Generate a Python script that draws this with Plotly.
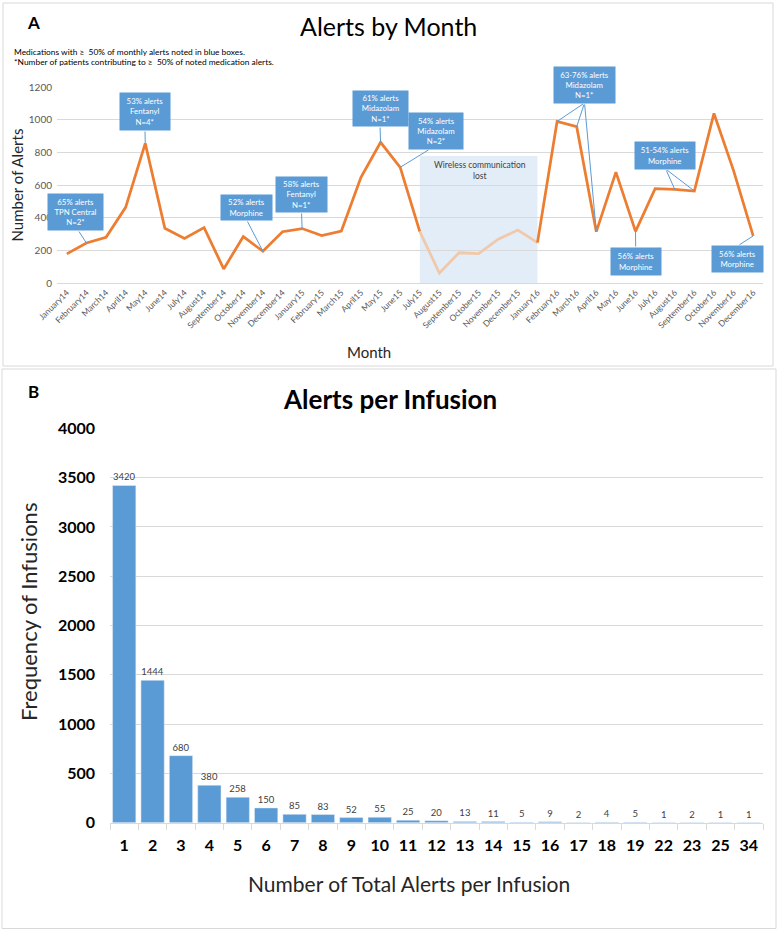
import plotly.graph_objects as go

# ---------------- data ----------------
months = ["January14", "February14", "March14", "April14", "May14", "June14", "July14",
          "August14", "September14", "October14", "November14", "December14",
          "January15", "February15", "March15", "April15", "May15", "June15", "July15",
          "August15", "September15", "October15", "November15", "December15",
          "January16", "February16", "March16", "April16", "May16", "June16", "July16",
          "August16", "September16", "October16", "November16", "December16"]
alerts = [180, 247, 282, 465, 857, 337, 275, 341, 88, 286, 196, 316,
          335, 292, 320, 649, 863, 710, 316, 63, 187, 182, 270, 326,
          249, 991, 959, 316, 681, 318, 580, 575, 565, 1040, 690, 290]
lost_start, lost_end = "July15", "January16"
lost_top = 780

alert_counts = ["1", "2", "3", "4", "5", "6", "7", "8", "9", "10", "11", "12", "13",
                "14", "15", "16", "17", "18", "19", "22", "23", "25", "34"]
infusions = [3420, 1444, 680, 380, 258, 150, 85, 83, 52, 55, 25, 20, 13, 11, 5, 9,
             2, 4, 5, 1, 2, 1, 1]

callout_texts = ["65% alerts<br>TPN Central<br>N=2*", "53% alerts<br>Fentanyl<br>N=4*",
                 "52% alerts<br>Morphine", "58% alerts<br>Fentanyl<br>N=1*",
                 "61% alerts<br>Midazolam<br>N=1*", "54% alerts<br>Midazolam<br>N=2*",
                 "63-76% alerts<br>Midazolam<br>N=1*", "51-54% alerts<br>Morphine",
                 "56% alerts<br>Morphine", "56% alerts<br>Morphine"]
callout_targets = [["February14"], ["May14"], ["November14"], ["January15"], ["May15"],
                   ["June15"], ["February16", "March16", "April16"],
                   ["August16", "September16"], ["June16"], ["December16"]]

# ---------------- layout geometry (pixels) ----------------
W, H = 778, 931
XA0, XA1, YA_TOP, YA_BOT = 57, 763, 87.3, 283.3
XB0, XB1, YB_TOP, YB_BOT = 110, 763, 428.3, 822.7
YMAX_A, YMAX_B = 1200, 4000

# box centre, box size, connector anchor
callout_geom = [
    ((75.5, 212), (55, 36), (78, 230)),
    ((145, 111.5), (50, 37), (145, 130)),
    ((246.5, 207.5), (51, 25), (246.7, 220)),
    ((301.5, 194.5), (51, 35), (301.5, 212)),
    ((380, 108.3), (55, 35), (380, 126)),
    ((436, 131), (54, 36), (430, 149)),
    ((584.5, 85), (61, 36), (584.5, 103)),
    ((665, 155.5), (60, 27), (665.7, 169)),
    ((635.7, 261.5), (50, 27), (635.7, 248)),
    ((737.5, 258.7), (51, 26), (738, 245.7)),
]

ORANGE = "#ed7d31"
LIGHT = "#f0c8aa"
BLUE = "#5b9bd5"
GRID = "#d9d9d9"
FONT = "Lato"


def px_a(i):
    return XA0 + (i + 0.5) * (XA1 - XA0) / len(months)


def py_a(v):
    return YA_BOT - v / YMAX_A * (YA_BOT - YA_TOP)


fig = go.Figure()

i_s, i_e = months.index(lost_start), months.index(lost_end)
segments = [(0, i_s, ORANGE), (i_s, i_e, LIGHT), (i_e, len(months) - 1, ORANGE)]
for a, b, col in segments:
    fig.add_trace(go.Scatter(x=months[a:b + 1], y=alerts[a:b + 1], mode="lines",
                             line=dict(color=col, width=2.75), xaxis="x", yaxis="y",
                             showlegend=False, hoverinfo="x+y"))

fig.add_trace(go.Bar(x=alert_counts, y=infusions, marker_color=BLUE, xaxis="x2", yaxis="y2",
                     text=infusions, textposition="outside", cliponaxis=False,
                     textfont=dict(family=FONT, size=9.5, color="#404040"),
                     showlegend=False))

annotations = []
# connectors
for targets, (c, sz, anc) in zip(callout_targets, callout_geom):
    for m in targets:
        i = months.index(m)
        v = alerts[i]
        annotations.append(dict(x=m, y=v, xref="x", yref="y", text="", showarrow=True,
                                arrowhead=0, arrowwidth=1, arrowcolor=BLUE,
                                ax=anc[0] - px_a(i), ay=anc[1] - py_a(v)))
# boxes
for t, (c, sz, anc) in zip(callout_texts, callout_geom):
    annotations.append(dict(x=c[0] / W, y=1 - c[1] / H, xref="paper", yref="paper",
                            text=t, showarrow=False, xanchor="center", yanchor="middle",
                            bgcolor=BLUE, width=sz[0], height=sz[1], borderpad=0,
                            font=dict(family=FONT, size=7.8, color="white")))

def paper_text(text, x, y, size, color="#000000", bold=False, angle=0, xanchor="center"):
    annotations.append(dict(x=x / W, y=1 - y / H, xref="paper", yref="paper", text=text,
                            showarrow=False, xanchor=xanchor, yanchor="middle",
                            textangle=angle,
                            font=dict(family=FONT, size=size, color=color,
                                      weight="bold" if bold else "normal")))

paper_text("Wireless communication<br>lost", 480, 171, 8.5, "#404040")
paper_text("A", 33, 22.5, 17, bold=True)
paper_text("Alerts by Month", 388, 26, 25)
paper_text("Medications with \u2265  50% of monthly alerts noted in blue boxes.", 11.5, 51.7, 8.4,
           xanchor="left")
paper_text("*Number of patients contributing to \u2265  50% of noted medication alerts.", 11.5, 62,
           8.4, xanchor="left")
paper_text("Number of Alerts", 16.5, 185, 15, "#262626", angle=-90)
paper_text("Month", 369, 352, 15, "#262626")

paper_text("B", 33, 391.5, 17, bold=True)
paper_text("Alerts per Infusion", 390, 399, 26, bold=True)
paper_text("Frequency of Infusions", 28, 612, 22, "#262626", angle=-90)
paper_text("Number of Total Alerts per Infusion", 409, 883, 21, "#262626")

shapes = [
    dict(type="rect", xref="x", yref="y", x0=i_s, x1=i_e, y0=0, y1=lost_top,
         fillcolor="#e3edf8", line=dict(width=0), layer="below"),
    dict(type="rect", xref="paper", yref="paper", x0=3 / W, x1=773 / W,
         y0=1 - 366 / H, y1=1 - 3 / H, line=dict(color=GRID, width=1)),
    dict(type="rect", xref="paper", yref="paper", x0=2 / W, x1=776 / W,
         y0=1 - 928.5 / H, y1=1 - 369 / H, line=dict(color=GRID, width=1)),
]

fig.update_layout(
    width=W, height=H, autosize=False,
    margin=dict(l=0, r=0, t=0, b=0, pad=0, autoexpand=False),
    paper_bgcolor="white", plot_bgcolor="white",
    font=dict(family=FONT),
    annotations=annotations, shapes=shapes,
    bargap=0.18,
    xaxis=dict(domain=[XA0 / W, XA1 / W], type="category", categoryorder="array",
               categoryarray=months, range=[-0.5, len(months) - 0.5],
               tickangle=-45, tickfont=dict(family=FONT, size=8.5, color="#595959"),
               showgrid=False, showline=True, linecolor=GRID, ticks="", zeroline=False,
               automargin=False, anchor="y"),
    yaxis=dict(domain=[1 - YA_BOT / H, 1 - YA_TOP / H], range=[0, YMAX_A], dtick=200,
               tickfont=dict(family=FONT, size=10, color="#595959"), gridcolor=GRID,
               zeroline=False, showline=False, ticklabelstandoff=4, automargin=False,
               anchor="x"),
    xaxis2=dict(domain=[XB0 / W, XB1 / W], type="category", categoryorder="array",
                categoryarray=alert_counts, range=[-0.5, len(alert_counts) - 0.5],
                tickfont=dict(family=FONT, size=16, color="#000000", weight="bold"),
                showgrid=False, showline=True, linecolor=GRID, ticks="outside",
                tickson="boundaries", ticklen=6, tickcolor=GRID, ticklabelstandoff=8,
                zeroline=False, automargin=False, anchor="y2"),
    yaxis2=dict(domain=[1 - YB_BOT / H, 1 - YB_TOP / H], range=[0, YMAX_B], dtick=500,
                tickfont=dict(family=FONT, size=16, color="#000000", weight="bold"),
                gridcolor=GRID, zeroline=False, showline=False, ticklabelstandoff=14,
                automargin=False, anchor="x2"),
)

fig.write_html("out.html", config={"displayModeBar": False},
               post_script="document.body.style.margin='0';document.body.style.overflow='hidden';")
